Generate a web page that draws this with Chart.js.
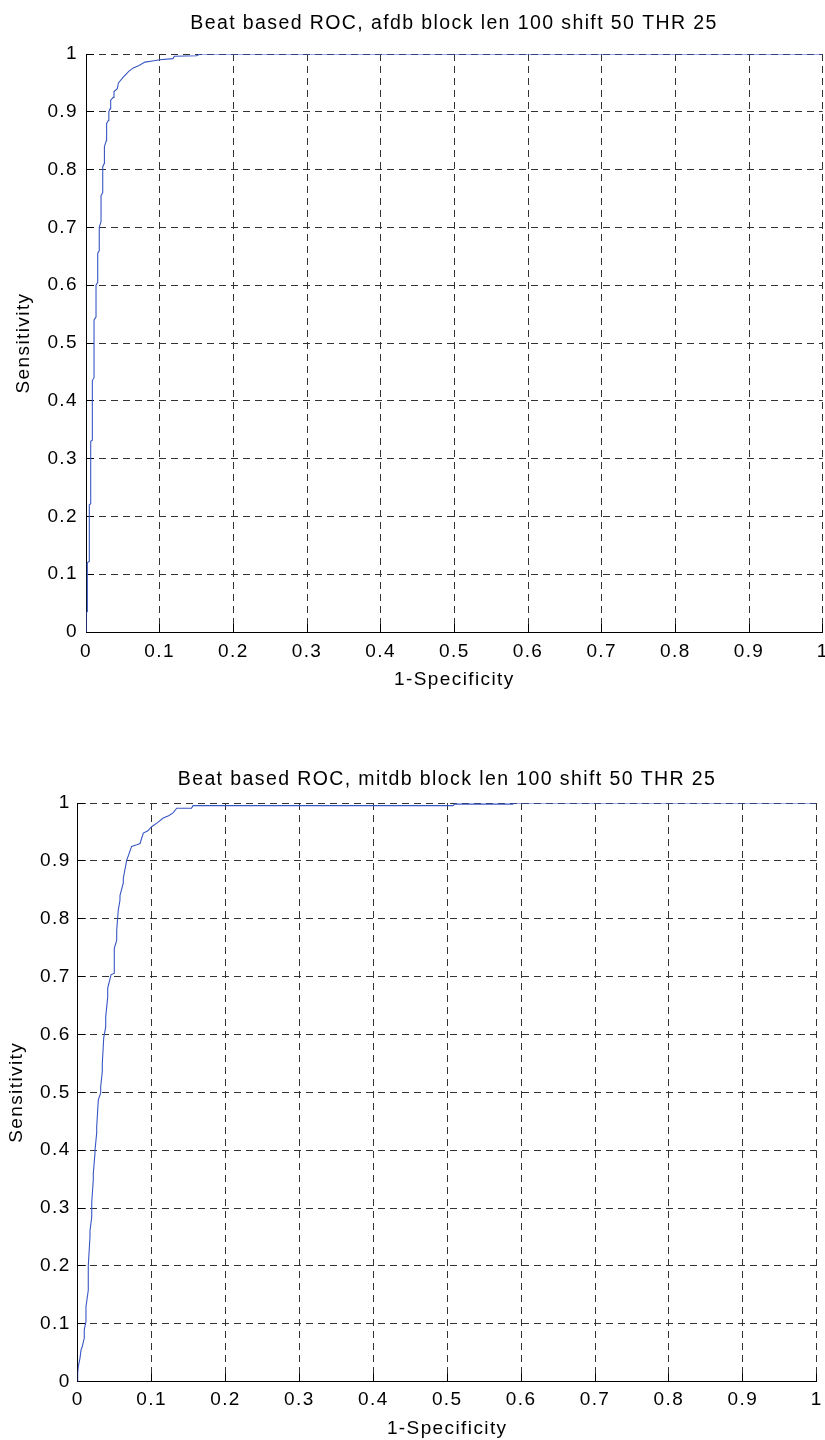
<!DOCTYPE html>
<html><head><meta charset="utf-8">
<script src="https://cdn.jsdelivr.net/npm/chart.js@4.4.1/dist/chart.umd.min.js"></script>
<style>
html,body{margin:0;padding:0;background:#fff;width:825px;height:1440px;overflow:hidden;position:relative}
canvas{position:absolute;left:0}
#c1{top:0}
#c2{top:750px}
</style></head><body>
<canvas id="c1" width="908" height="700"></canvas>
<canvas id="c2" width="894" height="690"></canvas>
<script>
const chartTitles = ['Beat based ROC, afdb block len 100 shift 50 THR 25', 'Beat based ROC, mitdb block len 100 shift 50 THR 25'];
const xAxisLabel = '1-Specificity';
const yAxisLabel = 'Sensitivity';
const xTickValues = [0,0.1,0.2,0.3,0.4,0.5,0.6,0.7,0.8,0.9,1];
const xTickLabels = ['0','0.1','0.2','0.3','0.4','0.5','0.6','0.7','0.8','0.9','1'];
const yTickValues = [0,0.1,0.2,0.3,0.4,0.5,0.6,0.7,0.8,0.9,1];
const yTickLabels = ['0','0.1','0.2','0.3','0.4','0.5','0.6','0.7','0.8','0.9','1'];

const afdbFpr = [0,0,0.0018,0.0018,0.0045,0.0045,0.0064,0.0064,0.0086,0.0086,0.0109,0.0109,0.0136,0.0136,0.0159,0.0159,0.018,0.018,0.0204,0.0204,0.0227,0.0227,0.0245,0.025,0.0275,0.028,0.0303,0.031,0.0326,0.0335,0.0371,0.038,0.0425,0.044,0.0506,0.058,0.0642,0.072,0.080,0.090,0.100,0.118,0.120,0.150,0.155,1];
const afdbTpr = [0,0.033,0.035,0.12,0.122,0.22,0.222,0.33,0.332,0.435,0.44,0.54,0.545,0.60,0.605,0.655,0.66,0.70,0.71,0.755,0.76,0.805,0.81,0.84,0.85,0.88,0.885,0.90,0.905,0.92,0.925,0.935,0.94,0.95,0.96,0.97,0.976,0.98,0.986,0.988,0.99,0.992,0.996,0.997,1,1];

const mitdbFpr = [0,0,0.0008,0.003,0.0045,0.006,0.0089,0.0089,0.0112,0.0112,0.0143,0.0143,0.0166,0.0166,0.019,0.019,0.0211,0.0211,0.0234,0.0234,0.0257,0.0257,0.0279,0.0311,0.0311,0.0333,0.0333,0.0352,0.0379,0.0379,0.0406,0.0406,0.0451,0.0495,0.0495,0.0528,0.0528,0.0549,0.0572,0.0572,0.0617,0.0617,0.0663,0.073,0.080,0.0843,0.0888,0.095,0.100,0.108,0.1158,0.123,0.129,0.134,0.154,0.156,0.508,0.51,0.589,0.59,1];
const mitdbTpr = [0,0.015,0.026,0.04,0.055,0.06,0.0755,0.09,0.104,0.13,0.158,0.20,0.25,0.26,0.285,0.31,0.349,0.36,0.395,0.40,0.43,0.44,0.487,0.499,0.51,0.536,0.55,0.594,0.613,0.63,0.665,0.68,0.703,0.706,0.749,0.763,0.78,0.815,0.832,0.84,0.862,0.87,0.901,0.925,0.928,0.93,0.948,0.952,0.959,0.966,0.974,0.978,0.983,0.991,0.991,0.9955,0.9955,0.998,0.998,1,1];

const FONT = "'Liberation Sans', Arial, Helvetica, sans-serif";
const spacingPlugin = {
  id: 'letterSpacing',
  beforeDraw(chart) { chart.ctx.letterSpacing = '1.4px'; }
};

function makeChart(id, title, fpr, tpr, L) {
  const pts = fpr.map((x, i) => ({x: x, y: tpr[i]}));
  return new Chart(document.getElementById(id), {
    type: 'scatter',
    data: { datasets: [{
      data: pts, showLine: true, borderColor: 'rgb(55,85,195)', borderWidth: 1.1,
      pointRadius: 0, pointHoverRadius: 0, tension: 0, fill: false
    }]},
    plugins: [spacingPlugin],
    options: {
      responsive: false, animation: false, devicePixelRatio: 1,
      layout: { padding: { left: 0, right: 0, top: 0, bottom: 0 } },
      plugins: {
        legend: { display: false }, tooltip: { enabled: false },
        title: { display: true, text: title, color: '#000',
          font: { family: FONT, size: 19.5, weight: 'normal', lineHeight: 1.2 },
          padding: { top: L.titleTop, bottom: L.titleBottom } }
      },
      scales: {
        x: {
          type: 'linear', position: 'bottom', min: 0, max: 1,
          afterBuildTicks: s => { s.ticks = xTickValues.map(v => ({value: v})); },
          afterFit: s => { s.height = L.xHeight; },
          ticks: { callback: (v, i) => xTickLabels[i], color: '#000', maxRotation: 0, autoSkip: false,
            padding: L.xTickPad, font: { family: FONT, size: 19 } },
          grid: { color: '#333', lineWidth: 1, drawTicks: true, tickLength: -8, tickColor: '#000', tickWidth: 1 },
          border: { display: true, color: '#000', width: 1, dash: [7, 5] },
          title: { display: true, text: xAxisLabel, color: '#000', font: { family: FONT, size: 19 },
            padding: { top: 0, bottom: L.xTitleBottom } }
        },
        y: {
          type: 'linear', position: 'left', min: 0, max: 1,
          afterBuildTicks: s => { s.ticks = yTickValues.map(v => ({value: v})); },
          afterFit: s => { s.width = L.yWidth; },
          ticks: { callback: (v, i) => yTickLabels[i], color: '#000', autoSkip: false,
            padding: L.yTickPad, font: { family: FONT, size: 19 } },
          grid: { color: '#333', lineWidth: 1, drawTicks: true, tickLength: -8, tickColor: '#000', tickWidth: 1 },
          border: { display: true, color: '#000', width: 1, dash: [7, 5] },
          title: { display: true, text: yAxisLabel, color: '#000', font: { family: FONT, size: 19 },
            padding: { top: L.yTitleTop, bottom: 0 } }
        },
        yR: {
          type: 'linear', position: 'right', min: 0, max: 1, display: true,
          afterFit: s => { s.width = L.rightGap; },
          ticks: { display: false }, grid: { display: false }, border: { display: false }
        }
      }
    }
  });
}

makeChart('c1', chartTitles[0], afdbFpr, afdbTpr,
  { titleTop: 12.3, titleBottom: 18.3, xHeight: 68, xTickPad: 16, xTitleBottom: 9, yWidth: 86, yTickPad: 16, yTitleTop: 12, rightGap: 85.3 });
makeChart('c2', chartTitles[1], mitdbFpr, mitdbTpr,
  { titleTop: 18, titleBottom: 11.6, xHeight: 58.3, xTickPad: 15, xTitleBottom: 0, yWidth: 77.7, yTickPad: 15, yTitleTop: 5, rightGap: 77.3 });
</script>
</body></html>
